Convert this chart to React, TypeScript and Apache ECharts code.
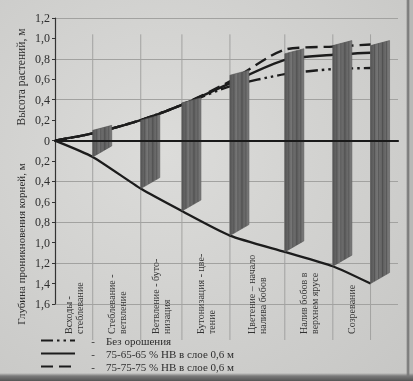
import React, { useEffect, useRef } from "react";
import * as echarts from "echarts";

// Stage positions along the season (relative units) and values, m
const stageX = [0, 11, 25, 37, 51, 67, 81, 92];
const noIrrigation = [0, 0.07, 0.2, 0.35, 0.53, 0.65, 0.7, 0.71];
const regime756565 = [0, 0.07, 0.2, 0.35, 0.56, 0.79, 0.84, 0.86];
const regime757575 = [0, 0.07, 0.2, 0.35, 0.58, 0.89, 0.92, 0.94];
const rootDepth = [0, -0.16, -0.47, -0.69, -0.93, -1.09, -1.23, -1.4];
const barTop = [0.1, 0.2, 0.37, 0.64, 0.85, 0.93, 0.93];
const periods = [
  "Всходы -\nстеблевание",
  "Стеблевание -\nветвление",
  "Ветвление - буто-\nнизация",
  "Бутонизация - цве-\nтение",
  "Цветение – начало\nналива бобов",
  "Налив бобов в\nверхнем ярусе",
  "Созревание",
];
const seriesNames = [
  "Без орошения",
  "75-65-65 % НВ в слое 0,6 м",
  "75-75-75 % НВ в слое 0,6 м",
];
const axisTitles = ["Высота растений, м", "Глубина проникновения корней, м"];

const SERIF = '"Liberation Serif", "DejaVu Serif", serif';
const INK = "#1c1c1c";

export default function App() {
  const ref = useRef<HTMLDivElement>(null);

  useEffect(() => {
    if (!ref.current) return;
    const chart = echarts.init(ref.current, undefined, { renderer: "svg" });

    const pts = (vals: number[]) => stageX.map((x, i) => [x, vals[i]]);
    const barData = stageX.slice(1).map((x, i) => [x, barTop[i], rootDepth[i + 1]]);
    const sepData = stageX.slice(1).map((x) => [x]);
    const labelData = periods.map((_, i) => [(stageX[i] + stageX[i + 1]) / 2, i]);

    const barFill = new echarts.graphic.LinearGradient(0, 0, 1, 0, [
      { offset: 0, color: "#565656" },
      { offset: 0.35, color: "#747474" },
      { offset: 0.65, color: "#606060" },
      { offset: 1, color: "#7a7a7a" },
    ]);

    const lineSeries = (name: string, data: number[], type: any, z = 2) => ({
      name,
      type: "line",
      data: pts(data),
      symbol: "none",
      smooth: 0.25,
      z,
      lineStyle: { color: INK, width: 2.4, type },
      itemStyle: { color: INK },
    });

    chart.setOption({
      animation: false,
      grid: { left: 55, right: 15, top: 18, bottom: 77 },
      xAxis: {
        type: "value",
        min: 0,
        max: 100,
        z: 10,
        axisLine: { show: true, onZero: true, lineStyle: { color: "#1a1a1a", width: 2.2 } },
        axisTick: { show: false },
        axisLabel: { show: false },
        splitLine: { show: false },
      },
      yAxis: [
        {
          type: "value",
          min: -1.6,
          max: 1.2,
          interval: 0.2,
          axisLine: { show: true, onZero: false, lineStyle: { color: "#333", width: 1.2 } },
          axisTick: { show: true, length: 3, lineStyle: { color: "#333" } },
          axisLabel: {
            color: "#2e2e2e",
            fontFamily: SERIF,
            fontSize: 12,
            margin: 5,
            formatter: (v: number) =>
              Math.abs(v) < 1e-9 ? "0" : Math.abs(v).toFixed(1).replace(".", ","),
          },
          splitLine: { show: false },
        },
        {
          type: "value",
          min: -1.6,
          max: 1.2,
          interval: 0.4,
          position: "right",
          axisLine: { show: false },
          axisTick: { show: false },
          axisLabel: { show: false },
          splitLine: { show: true, lineStyle: { color: "#a2a2a0", width: 1 } },
        },
      ],
      legend: {
        data: seriesNames,
        orient: "vertical",
        left: 35,
        top: 330,
        itemWidth: 34,
        itemHeight: 10,
        itemGap: 2,
        itemStyle: { opacity: 0 },
        textStyle: {
          color: "#2e2e2e",
          fontFamily: SERIF,
          fontSize: 11,
          lineHeight: 11,
          rich: { d: { width: 26, align: "center", fontFamily: SERIF, fontSize: 11, color: "#2e2e2e" } },
        },
        formatter: (n: string) => `{d|-}${n}`,
      },
      graphic: [
        {
          type: "text",
          x: 21,
          y: 77,
          rotation: Math.PI / 2,
          style: {
            text: axisTitles[0],
            align: "center",
            verticalAlign: "middle",
            font: `11.5px ${SERIF}`,
            fill: "#2e2e2e",
          },
        },
        {
          type: "text",
          x: 21,
          y: 244,
          rotation: Math.PI / 2,
          style: {
            text: axisTitles[1],
            align: "center",
            verticalAlign: "middle",
            font: `11px ${SERIF}`,
            fill: "#2e2e2e",
          },
        },
      ],
      series: [
        {
          type: "custom",
          name: "separators",
          clip: false,
          z: 1,
          silent: true,
          data: sepData,
          renderItem: (_p: any, api: any) => {
            const x = api.value(0);
            const a = api.coord([x, 1.04]);
            const b = api.coord([x, -1.6]);
            return {
              type: "line",
              shape: { x1: a[0], y1: a[1], x2: b[0], y2: b[1] + 36 },
              style: { stroke: "#a2a2a0", lineWidth: 1 },
            };
          },
        },
        {
          type: "custom",
          name: "periods",
          clip: false,
          z: 4,
          silent: true,
          data: labelData,
          renderItem: (_p: any, api: any) => {
            const p = api.coord([api.value(0), -1.6]);
            return {
              type: "text",
              x: p[0],
              y: p[1] + 30,
              rotation: Math.PI / 2,
              style: {
                text: periods[api.value(1)],
                align: "left",
                verticalAlign: "middle",
                font: `10px ${SERIF}`,
                lineHeight: 11,
                fill: "#333",
              },
            };
          },
        },
        lineSeries(seriesNames[0], noIrrigation, [12, 4, 2.5, 4, 2.5, 4]),
        lineSeries(seriesNames[1], regime756565, "solid"),
        lineSeries(seriesNames[2], regime757575, [12, 6]),
        {
          name: "roots",
          type: "line",
          data: pts(rootDepth),
          symbol: "none",
          smooth: 0.2,
          z: 2,
          lineStyle: { color: INK, width: 2.3 },
        },
        {
          type: "custom",
          name: "bars",
          z: 3,
          clip: false,
          data: barData,
          encode: { x: 0, y: [1, 2] },
          renderItem: (_p: any, api: any) => {
            const t = api.coord([api.value(0), api.value(1)]);
            const b = api.coord([api.value(0), api.value(2)]);
            const w = 19;
            const bt = 5;
            const bb = 11;
            const hatch = [4, 8, 12, 16].map((d) => ({
              type: "line",
              shape: {
                x1: t[0] + d,
                y1: t[1] - (bt * d) / w,
                x2: b[0] + d,
                y2: b[1] - (bb * d) / w,
              },
              style: { stroke: "rgba(50,50,50,0.35)", lineWidth: 1 },
            }));
            return {
              type: "group",
              children: [
                {
                  type: "polygon",
                  shape: {
                    points: [
                      [t[0], t[1]],
                      [t[0] + w, t[1] - bt],
                      [b[0] + w, b[1] - bb],
                      [b[0], b[1]],
                    ],
                  },
                  style: { fill: barFill, stroke: "#555", lineWidth: 0.6 },
                },
                ...hatch,
              ],
            };
          },
        },
      ],
    });

    return () => chart.dispose();
  }, []);

  return (
    <div
      ref={ref}
      style={{
        position: "fixed",
        left: 0,
        top: 0,
        width: 413,
        height: 381,
        background:
          "linear-gradient(to bottom, rgba(0,0,0,0) 373px, #7a7a7a 376px, #555 381px), linear-gradient(to right, rgba(0,0,0,0) 406px, #6a6a6a 408px, #b8b8b6 410px), radial-gradient(ellipse at 40% 40%, #dcdcda, #c6c6c4)",
      }}
    />
  );
}
